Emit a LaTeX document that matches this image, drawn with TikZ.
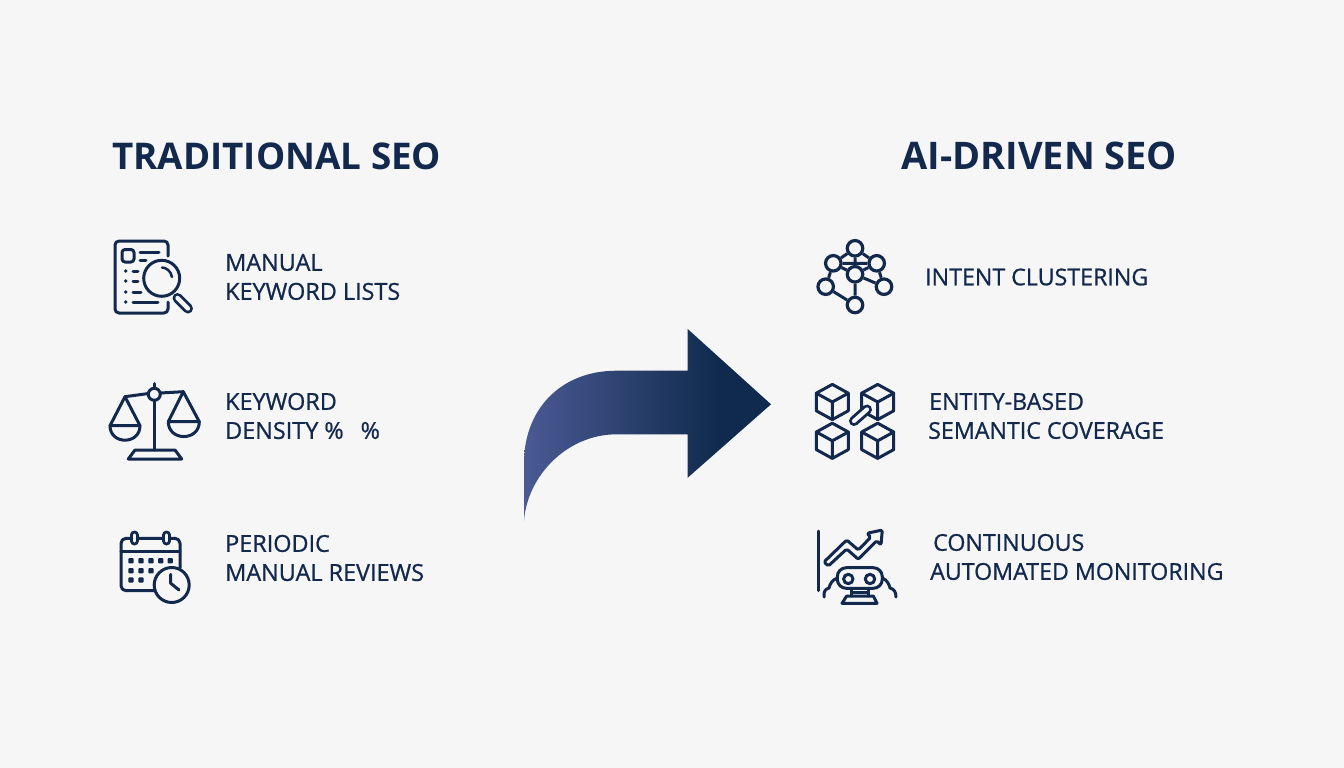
\documentclass[tikz,border=0pt]{standalone}
\usepackage{fontspec}
\setmainfont{Open Sans}
\newfontfamily\labfont[FakeBold=0.8]{Open Sans}
\definecolor{navy}{HTML}{12294D}
\definecolor{bgc}{HTML}{F6F6F6}
\definecolor{arrowL}{HTML}{4A5A94}
\definecolor{arrowR}{HTML}{0F2A4C}
\pgfdeclarehorizontalshading{arrowgrad}{100bp}{color(0bp)=(arrowL); color(25bp)=(arrowL); color(65bp)=(arrowR); color(100bp)=(arrowR)}
\tikzset{
  title/.style={anchor=base west,inner sep=0pt,text=navy,font=\fontsize{38}{44}\selectfont\bfseries},
  lab/.style={anchor=west,inner sep=0pt,text=navy,align=left,font=\labfont\fontsize{23.2}{29}\selectfont},
  labl/.style={lab,font=\labfont\fontsize{23.4}{29}\selectfont},
  icon/.style={draw=navy,line width=3pt,line join=round,line cap=round},
  thin icon/.style={icon,line width=2.5pt},
  gnode/.style={circle,draw=navy,line width=3.2pt,fill=bgc,inner sep=0pt,minimum size=15.5pt},
  gedge/.style={draw=navy,line width=3pt},
  dotm/.style={fill=navy,rounded corners=0.8pt}
}
\begin{document}
\begin{tikzpicture}[x=1pt,y=-1pt]
\useasboundingbox (0,0) rectangle (1344,768);
\fill[bgc] (0,0) rectangle (1344,768);
% headings
\node[title,font=\fontsize{36.8}{44}\selectfont\bfseries] (t1) at (112,169) {TRADITIONAL SEO};
\node[title] (t2) at (901,169) {AI-DRIVEN SEO};
% labels
\node[labl] (l1) at (225,277) {MANUAL\\KEYWORD LISTS};
\node[labl] (l2) at (225,416) {KEYWORD\\DENSITY \%\hspace{17pt}\%};
\node[labl] (l3) at (225,558) {PERIODIC\\MANUAL REVIEWS};
\node[lab] (r1) at (925,277) {INTENT CLUSTERING};
\node[lab] (r2) at (928,416) {\hspace*{1pt}ENTITY-BASED\\SEMANTIC COVERAGE};
\node[lab] (r3) at (930,557) {\hspace*{3pt}CONTINUOUS\\AUTOMATED MONITORING};
% big arrow
\shade[shading=arrowgrad] (687.7,329) -- (771,404.3) -- (687.7,477.7) -- (687.7,434.3) -- (616.7,434.3)
  .. controls (566,434.3) and (527,477) .. (524,521) -- (524,463)
  .. controls (524,410) and (560,370.7) .. (616.7,370.7) -- (687.7,370.7) -- cycle;
% icon 1: document with magnifier
\draw[icon,rounded corners=4pt] (168,256) -- (168,241) -- (115,241) -- (115,313) -- (168,313) -- (168,302);
\draw[icon,rounded corners=3pt] (122,249.5) rectangle (134,262);
\draw[icon] (140,252.7) -- (159,252.7) (140,260.7) -- (146,260.7)
  (133,271) -- (138,271) (133,281) -- (138,281) (133,292) -- (141,292) (133,302) -- (158,302);
\foreach \yy in {271,281,292,302} \fill[navy] (125.7,\yy) circle (1.9);
\draw[icon,fill=bgc] (161.7,278.3) circle (18);
\draw[thin icon] (162,267.5) .. controls (166,267.5) and (171,271) .. (172,277);
\draw[icon,line width=10pt] (177.5,298) -- (188,308.5);
\draw[bgc,line width=4.4pt,line cap=round] (177.5,298) -- (188,308.5);
% icon 2: scales
\draw[icon] (125,396.7) -- (148.5,393.5) (160.5,393) -- (183.3,391.7);
\draw[icon] (154.3,400.3) -- (154.3,450) (154.3,388) -- (154.3,383.5);
\draw[icon] (154.3,394.3) circle (6);
\draw[icon] (110,425.7) -- (125,396.7) -- (140,425.7);
\draw[icon] (110,425.7) -- (140,425.7) .. controls (140,445) and (110,445) .. cycle;
\draw[icon] (168.3,421.7) -- (183.3,391.7) -- (199.3,421.7);
\draw[icon] (168.3,421.7) -- (199.3,421.7) .. controls (199.3,441.5) and (168.3,441.5) .. cycle;
\draw[icon] (135,450) -- (175,450) -- (181.7,459) -- (128.3,459) -- cycle;
% icon 3: calendar
\draw[icon,rounded corners=5pt] (180,568) -- (180,538.3) -- (121,538.3) -- (121,590.7) -- (154,590.7);
\draw[icon] (121,551.7) -- (180,551.7);
\foreach \xx in {134.3,166.7} {
  \draw[icon,line width=9pt] (\xx,535) -- (\xx,541);
  \draw[bgc,line width=3.4pt,line cap=round] (\xx,535) -- (\xx,541);
}
\foreach \xx/\yy in {131/560.7,141/560.7,151/560.7,160.7/560.7,170.3/560.7,131/570.7,141/570.7,151/570.7,131/580,141/580}
  \fill[dotm] (\xx-2.6,\yy-2.6) rectangle (\xx+2.6,\yy+2.6);
\draw[icon,fill=bgc] (171.7,585) circle (17.5);
\draw[icon] (170.7,574.3) -- (170.7,583.3) -- (179,590);
% icon 4: cluster graph
\node[gnode] (gt) at (855,248.3) {};
\node[gnode] (gl) at (833.3,263.3) {};
\node[gnode] (gr) at (876.7,263.3) {};
\node[gnode] (gc) at (855,274.3) {};
\node[gnode] (gfl) at (825.7,286.7) {};
\node[gnode] (gfr) at (884,286.7) {};
\node[gnode] (gb) at (855,305) {};
\draw[gedge] (gt) -- (gl) (gt) -- (gr) (gt) -- (gc) (gl) -- (gc) (gr) -- (gc) (gl) -- (gr)
  (gl) -- (gfl) (gr) -- (gfr) (gc) -- (gfr) (gfl) -- (gb) (gc) -- (gb);
% icon 5: cubes with link
\foreach \cx/\cy in {832.3/402,877.7/402,832.3/440.8,877.7/440.8} {
  \draw[icon] (\cx,\cy-17.6) -- (\cx+16,\cy-8.8) -- (\cx+16,\cy+8.8) -- (\cx,\cy+17.6) -- (\cx-16,\cy+8.8) -- (\cx-16,\cy-8.8) -- cycle;
  \draw[icon] (\cx-16,\cy-8.8) -- (\cx,\cy) -- (\cx+16,\cy-8.8) (\cx,\cy) -- (\cx,\cy+17.6);
}
\draw[icon,line width=10pt] (854,421) -- (867,409.5);
\draw[bgc,line width=4.2pt,line cap=round] (854,421) -- (867,409.5);
% icon 6: chart and robot
\draw[icon] (818.7,531) -- (818.7,590.7);
\draw[icon,rounded corners=1.5pt] (824,562) -- (846.7,540) -- (858.3,550) -- (870.7,537.3) -- (867,533.3) -- (882.3,530) -- (881,545) -- (876.7,540.7) -- (858.3,559.3) -- (846.7,549) -- (828.3,566) -- cycle;
\draw[icon,rounded corners=9pt] (837.3,567.7) rectangle (882.3,588.3);
\draw[icon] (848.3,579) circle (4.7) (870,579) circle (4.7);
\draw[icon] (837.3,578) .. controls (832,580) and (830,584) .. (829,588) .. controls (825,589) and (823.5,592) .. (824,597);
\draw[icon] (882.3,578) .. controls (887,580) and (889,584) .. (890,588) .. controls (894,589) and (896,592) .. (896,597);
\draw[icon] (851.7,588.3) -- (851.7,596) (868.3,588.3) -- (868.3,596) (851.7,592) -- (868.3,592);
\draw[icon] (846.7,596) -- (873.3,596) -- (877,603.3) -- (842,603.3) -- cycle;
\end{tikzpicture}
\end{document}
